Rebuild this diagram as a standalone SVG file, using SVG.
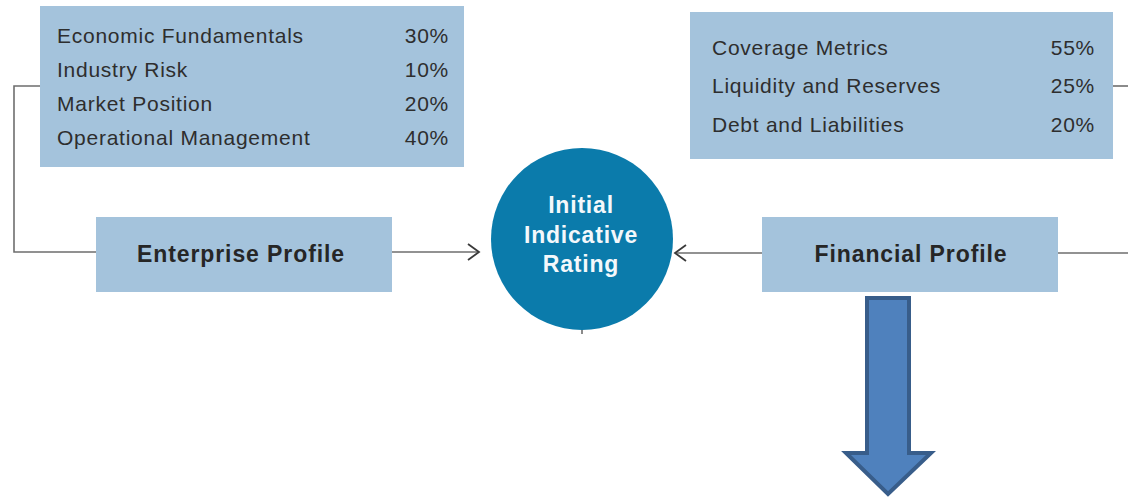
<svg xmlns="http://www.w3.org/2000/svg" width="1128" height="497" viewBox="0 0 1128 497">
  <style>
    .box { fill: #a4c3dc; }
    .item { font-family: "Liberation Sans", Arial, sans-serif; font-size: 21px; fill: #2e2e2e; letter-spacing: 0.75px; }
    .pct { text-anchor: end; }
    .title { font-family: "Liberation Sans", Arial, sans-serif; font-size: 23px; font-weight: bold; fill: #262626; text-anchor: middle; letter-spacing: 0.9px; }
    .rate { font-family: "Liberation Sans", Arial, sans-serif; font-size: 23px; font-weight: bold; fill: #f4f8fb; text-anchor: middle; letter-spacing: 0.8px; }
    .wire { fill: none; stroke: #6e6e6e; stroke-width: 1.6; }
    .chev { fill: none; stroke: #3a3a3a; stroke-width: 1.8; }
  </style>

  <g id="connectors">
    <!-- enterprise factors feed the enterprise profile -->
    <polyline class="wire" points="40,86 14,86 14,252 96,252"/>
    <!-- financial factors and profile lead off to the right -->
    <line class="wire" x1="1113" y1="86" x2="1128" y2="86"/>
    <line class="wire" x1="1058" y1="253" x2="1128" y2="253"/>
    <!-- profiles into the rating -->
    <line class="wire" x1="392" y1="252" x2="479" y2="252"/>
    <polyline class="chev" points="468,244 479,252 468,260"/>
    <line class="wire" x1="762" y1="253" x2="675" y2="253"/>
    <polyline class="chev" points="686,245 675,253 686,261"/>
    <line class="wire" x1="582" y1="329" x2="582" y2="334"/>
  </g>

  <g id="enterprise-factors">
    <rect class="box" x="40" y="6" width="424" height="161"/>
    <text class="item" x="57" y="43">Economic Fundamentals</text>
    <text class="item pct" x="449" y="43">30%</text>
    <text class="item" x="57" y="77">Industry Risk</text>
    <text class="item pct" x="449" y="77">10%</text>
    <text class="item" x="57" y="111">Market Position</text>
    <text class="item pct" x="449" y="111">20%</text>
    <text class="item" x="57" y="145">Operational Management</text>
    <text class="item pct" x="449" y="145">40%</text>
  </g>

  <g id="financial-factors">
    <rect class="box" x="690" y="12" width="423" height="147"/>
    <text class="item" x="712" y="55">Coverage Metrics</text>
    <text class="item pct" x="1095" y="55">55%</text>
    <text class="item" x="712" y="93">Liquidity and Reserves</text>
    <text class="item pct" x="1095" y="93">25%</text>
    <text class="item" x="712" y="132">Debt and Liabilities</text>
    <text class="item pct" x="1095" y="132">20%</text>
  </g>

  <g id="enterprise-profile">
    <rect class="box" x="96" y="217" width="296" height="75"/>
    <text class="title" x="241" y="262">Enterprise Profile</text>
  </g>

  <g id="financial-profile">
    <rect class="box" x="762" y="217" width="296" height="75"/>
    <text class="title" x="911" y="262">Financial Profile</text>
  </g>

  <g id="initial-rating">
    <circle cx="582" cy="239" r="91" fill="#0b7bab"/>
    <text class="rate" x="581" y="213">Initial</text>
    <text class="rate" x="581" y="243">Indicative</text>
    <text class="rate" x="581" y="272">Rating</text>
  </g>

  <g id="down-arrow">
    <polygon points="867,298 909,298 909,453 931,453 888,494 846,453 867,453" fill="#4f81bd" stroke="#385d8a" stroke-width="4" stroke-linejoin="miter"/>
  </g>
</svg>
